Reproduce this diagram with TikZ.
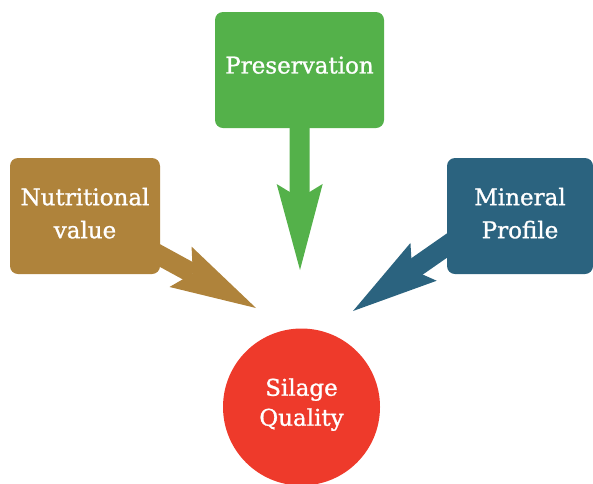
\documentclass[tikz,border=0pt]{standalone}
\usepackage{fontspec}
\setmainfont{DejaVu Serif}[BoldFont={DejaVu Serif},BoldFeatures={FakeBold=1.1}]
\usetikzlibrary{arrows.meta}
\definecolor{presgreen}{HTML}{54B14A}
\definecolor{nutribrown}{HTML}{AF833B}
\definecolor{minblue}{HTML}{2B637F}
\definecolor{silred}{HTML}{EE3A2B}
\newcommand{\up}[2][6pt]{\raisebox{#1}{#2}}
\begin{document}
\begin{tikzpicture}[x=1pt,y=-1pt,
  box/.style={rounded corners=8pt, minimum height=116pt, inner sep=0pt,
    text=white, align=center, font=\fontsize{23}{33}\selectfont\bfseries},
  push/.style={line width=20pt,
    -{Stealth[length=86pt,width=46pt,inset=14pt,line width=0pt]}}]
\useasboundingbox (0,0) rectangle (593,483);
% boxes and the centre circle
\node[box, fill=presgreen, minimum width=169pt] (pres) at (299.5,70) {\up[10pt]{Preservation}};
\node[box, fill=nutribrown, minimum width=150pt] (nutri) at (85,216) {\up{Nutritional}\\\up{value}};
\node[box, fill=minblue, minimum width=146pt] (mineral) at (520,216) {\up{Mineral}\\\up{Profile}};
\node[circle, fill=silred, minimum size=157pt, inner sep=0pt, text=white, align=center,
  font=\fontsize{23}{30}\selectfont\bfseries] (silage) at (301.5,407) {\up[10pt]{Silage}\\\up[10pt]{Quality}};
% fat arrows towards the circle
\coordinate (tipP) at (300,270);
\coordinate (tipN) at (256,308);
\coordinate (tipM) at (353,311);
\draw[push, presgreen] (pres.south) -- (tipP);
\draw[push, nutribrown] ([shift={(-10,-24)}]nutri.south east) -- (tipN);
\draw[push, minblue] ([shift={(10,-35.5)}]mineral.south west) -- (tipM);
\end{tikzpicture}
\end{document}
